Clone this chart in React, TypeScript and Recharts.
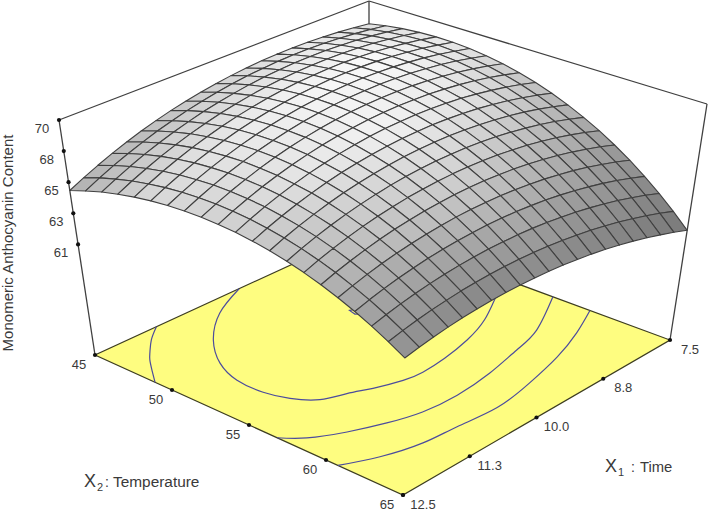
import React from "react";
import { ScatterChart, Scatter, XAxis, YAxis } from "recharts";

const X1_TICKS = [7.5, 8.8, 10.0, 11.3, 12.5];
const X1_FRACS = [0, 0.25, 0.5, 0.75, 1];
const X2_TICKS = [45, 50, 55, 60, 65];
const Z_TICKS = [61, 63.25, 65.5, 67.75, 70];
const Z_LABELS = ["61", "63", "65", "68", "70"];

// Contours on the floor, as [X1, X2]
const C1 = [[11.38,45],[11.69,45.78],[11.94,46.58],[12.10,47.14],[12.3,48],[12.5,48.9]];
const C2 = [[9.87,45],[10.54,46.14],[11.15,47.9],[11.55,49.76],[11.74,51.54],[11.75,53.28],[11.64,54.64],[11.41,55.78],[11.07,56.34],[10.75,56.92],[10.35,57.48],[10.03,57.64],[9.58,57.48],[9.04,57.04],[8.49,56.24],[7.93,55],[7.5,54.2]];
const C3 = [[12.5,56.82],[12.25,57.88],[11.8,58.92],[11.3,59.76],[10.8,60.34],[10.2,60.5],[9.52,60.22],[8.85,59.64],[8.3,59],[7.5,57.22]];
const C4 = [[12.5,60.78],[11.99,61.73],[11.38,62.4],[10.8,62.6],[10.12,62.84],[9.4,62.42],[8.68,61.7],[8.05,60.76],[7.5,59.68]];
const C5 = [[9.3,50.7],[9.39,50.54],[9.42,51],[9.35,51.3]];

// Response surface: one row per X2 step (45..65), one column per X1 step (7.5..12.5)
const Z_00 = [68.30,68.45,68.57,68.66,68.71,68.73,68.71,68.66,68.57,68.45,68.30,68.11,67.89,67.64,67.35,67.03,66.67,66.28,65.85,65.39,64.90];
const Z_01 = [68.54,68.72,68.86,68.97,69.05,69.08,69.09,69.05,68.98,68.88,68.74,68.56,68.35,68.11,67.82,67.51,67.15,66.76,66.34,65.88,65.38];
const Z_02 = [68.71,68.92,69.09,69.22,69.31,69.37,69.39,69.38,69.32,69.23,69.11,68.94,68.74,68.51,68.23,67.92,67.57,67.19,66.76,66.30,65.81];
const Z_03 = [68.82,69.05,69.24,69.40,69.51,69.59,69.63,69.63,69.59,69.52,69.41,69.25,69.06,68.84,68.57,68.27,67.92,67.54,67.12,66.67,66.17];
const Z_04 = [68.87,69.12,69.33,69.51,69.64,69.74,69.80,69.81,69.79,69.73,69.63,69.49,69.31,69.10,68.84,68.54,68.21,67.83,67.42,66.96,66.47];
const Z_05 = [68.85,69.12,69.36,69.55,69.71,69.82,69.89,69.93,69.92,69.87,69.79,69.66,69.49,69.29,69.04,68.75,68.42,68.06,67.65,67.20,66.71];
const Z_06 = [68.77,69.06,69.32,69.53,69.70,69.83,69.92,69.97,69.98,69.95,69.87,69.76,69.60,69.41,69.17,68.89,68.57,68.21,67.81,67.37,66.89];
const Z_07 = [68.62,68.93,69.21,69.44,69.62,69.77,69.88,69.94,69.96,69.95,69.89,69.78,69.64,69.46,69.23,68.97,68.66,68.31,67.92,67.48,67.01];
const Z_08 = [68.41,68.74,69.03,69.28,69.48,69.64,69.76,69.84,69.88,69.87,69.83,69.74,69.61,69.44,69.23,68.97,68.67,68.33,67.95,67.53,67.07];
const Z_09 = [68.14,68.48,68.79,69.05,69.27,69.44,69.58,69.67,69.72,69.73,69.70,69.62,69.51,69.35,69.15,68.91,68.62,68.30,67.93,67.52,67.06];
const Z_10 = [67.80,68.16,68.48,68.75,68.98,69.18,69.32,69.43,69.50,69.52,69.50,69.44,69.34,69.19,69.00,68.78,68.50,68.19,67.84,67.44,67.00];
const Z_11 = [67.40,67.77,68.10,68.39,68.63,68.84,69.00,69.12,69.20,69.23,69.23,69.18,69.09,68.96,68.79,68.58,68.32,68.02,67.68,67.30,66.87];
const Z_12 = [66.93,67.31,67.66,67.96,68.21,68.43,68.60,68.74,68.83,68.88,68.89,68.86,68.78,68.66,68.51,68.31,68.07,67.78,67.46,67.10,66.69];
const Z_13 = [66.40,66.79,67.15,67.46,67.72,67.95,68.14,68.28,68.39,68.45,68.48,68.46,68.40,68.30,68.15,67.97,67.75,67.48,67.18,66.83,66.44];
const Z_14 = [65.81,66.21,66.57,66.89,67.17,67.41,67.60,67.76,67.88,67.96,67.99,67.99,67.94,67.86,67.73,67.57,67.36,67.11,66.83,66.50,66.13];
const Z_15 = [65.15,65.56,65.92,66.25,66.54,66.79,67.00,67.17,67.30,67.39,67.44,67.45,67.42,67.35,67.24,67.10,66.91,66.68,66.41,66.11,65.76];
const Z_16 = [64.43,64.84,65.21,65.55,65.85,66.10,66.32,66.50,66.64,66.75,66.81,66.84,66.83,66.77,66.68,66.55,66.39,66.18,65.94,65.65,65.33];
const Z_17 = [63.64,64.06,64.44,64.78,65.08,65.35,65.58,65.77,65.92,66.04,66.12,66.16,66.16,66.13,66.06,65.95,65.80,65.62,65.40,65.14,64.84];
const Z_18 = [62.79,63.21,63.59,63.94,64.25,64.52,64.76,64.96,65.13,65.26,65.35,65.40,65.43,65.41,65.36,65.27,65.15,64.99,64.79,64.56,64.29];
const Z_19 = [61.88,62.30,62.68,63.03,63.35,63.63,63.87,64.08,64.26,64.40,64.51,64.58,64.62,64.62,64.59,64.53,64.42,64.29,64.12,63.91,63.67];
const Z_20 = [60.90,61.32,61.70,62.06,62.38,62.66,62.92,63.14,63.32,63.48,63.60,63.69,63.74,63.77,63.76,63.71,63.64,63.53,63.38,63.21,63.00];
const Z_GRID = [Z_00,Z_01,Z_02,Z_03,Z_04,Z_05,Z_06,Z_07,Z_08,Z_09,Z_10,Z_11,Z_12,Z_13,Z_14,Z_15,Z_16,Z_17,Z_18,Z_19,Z_20];

const GRAY = [
  [224,232,208,188,176],
  [232,250,245,232,216],
  [194,230,242,230,206],
  [154,180,202,194,178],
  [120,130,136,132,146],
];

const Z0 = 53, Z1 = 70;
const fB = [369, 229], fR = [670, 340], fL = [95, 355], fF = [403, 495];
const tB = [369, 1], tR = [707, 104], tL = [59, 120], tF = [406, 262];
const bil = (q: number[][], a: number, b: number, k: number) =>
  q[0][k]*(1-a)*(1-b) + q[1][k]*a*(1-b) + q[2][k]*(1-a)*b + q[3][k]*a*b;
const project = (x1: number, x2: number, z: number) => {
  const a = (x2-45)/20, b = (x1-7.5)/5, h = (z-Z0)/(Z1-Z0);
  const F = [fB, fR, fL, fF], T = [tB, tR, tL, tF];
  return {
    x: bil(F,a,b,0)*(1-h) + bil(T,a,b,0)*h,
    y: bil(F,a,b,1)*(1-h) + bil(T,a,b,1)*h,
  };
};
const N = Z_GRID.length - 1;

const grayAt = (a: number, b: number) => {
  const u = Math.min(3.999, a*4), v = Math.min(3.999, b*4);
  const i = Math.floor(u), j = Math.floor(v), s = u-i, t = v-j;
  return Math.round(GRAY[i][j]*(1-s)*(1-t)+GRAY[i+1][j]*s*(1-t)+GRAY[i][j+1]*(1-s)*t+GRAY[i+1][j+1]*s*t);
};

const nodeX1 = (j: number) => 7.5 + 5*j/N;
const nodeX2 = (i: number) => 45 + 20*i/N;
const quads: any[] = [];
for (let s = 0; s <= 2*N-2; s++) {
  for (let i = 0; i < N; i++) {
    const j = s - i;
    if (j < 0 || j >= N) continue;
    const c = [[i,j],[i+1,j],[i+1,j+1],[i,j+1]].map(([p,q]) => project(nodeX1(q), nodeX2(p), Z_GRID[p][q]));
    const gi = grayAt((i+.5)/N,(j+.5)/N);
    quads.push({ x: c[0].x, y: c[0].y, corners: c, fill: `rgb(${gi},${gi},${gi})` });
  }
}

const QuadShape = (p: any) => {
  const { cx, cy, payload } = p;
  const pts = payload.corners.map((c: any) => `${cx + c.x - payload.x},${cy + c.y - payload.y}`).join(" ");
  return <polygon points={pts} fill={payload.fill} stroke="#404040" strokeWidth={1.1} strokeLinejoin="round" />;
};
const FloorShape = (p: any) => {
  const { cx, cy, payload } = p;
  const pts = payload.corners.map((c: any) => `${cx + c.x - payload.x},${cy + c.y - payload.y}`).join(" ");
  return <polygon points={pts} fill="#FEFD80" stroke="#3d3d20" strokeWidth={1.2} />;
};
const NoDot = () => <g />;
const TickDot = (p: any) => <circle cx={p.cx} cy={p.cy} r={2.1} fill="#111" />;
const FONT = "'Liberation Sans', Arial, sans-serif";
const LabelShape = (p: any) => (
  <text x={p.cx} y={p.cy} textAnchor="middle" dominantBaseline="central" fontFamily={FONT} fontSize={13} fill="#3a3a3a">{p.payload.text}</text>
);

const floorCorners = [project(7.5,45,Z0), project(7.5,65,Z0), project(12.5,65,Z0), project(12.5,45,Z0)];
const floorData = [{ x: floorCorners[0].x, y: floorCorners[0].y, corners: floorCorners }];
const contour = (c: number[][]) => c.map(([x1,x2]) => project(x1,x2,Z0));

const LT = project(12.5,45,Z1), BT = project(7.5,45,Z1), RT = project(7.5,65,Z1);
const LB = project(12.5,45,Z0), BB = project(7.5,45,Z0), RB = project(7.5,65,Z0);

const zTickPts = Z_TICKS.map((z,i) => { const p = project(12.5,45,z); return { ...p, text: Z_LABELS[i] }; });
const x2TickPts = X2_TICKS.map(v => project(12.5,v,Z0));
const x1TickPts = X1_FRACS.map(f => project(7.5+5*f,65,Z0));
const labelPts = [
  ...zTickPts.map(p => ({ x: p.x-17, y: p.y+8.5, text: p.text })),
  ...x2TickPts.map((p,i) => ({ x: p.x-16, y: p.y+9, text: String(X2_TICKS[i]) })),
  ...x1TickPts.map((p,i) => ({ x: p.x+20, y: p.y+9, text: X1_TICKS[i].toFixed(1) })),
];

const Titles = (p: any) => {
  const { cx, cy, payload } = p;
  if (payload.kind === "z") return <text x={cx} y={cy} transform={`rotate(-90 ${cx} ${cy})`} textAnchor="middle" fontFamily={FONT} fontSize={15} fill="#3a3a3a">{payload.text}</text>;
  return (
    <g fontFamily={FONT} fill="#3a3a3a">
      <text x={cx} y={cy} fontSize={18}>X</text>
      <text x={cx+13} y={cy+4} fontSize={11}>{payload.sub}</text>
      <text x={cx+payload.gap} y={cy} fontSize={14}>:</text>
      <text x={cx+payload.gap+payload.gap2} y={cy} fontSize={payload.size}>{payload.text}</text>
    </g>
  );
};
const titleData = [
  { x: 13, y: 243, kind: "z", text: "Monomeric Anthocyanin Content" },
  { x: 84, y: 487, kind: "x", sub: "2", text: "Temperature", gap: 21, gap2: 8, size: 15.4 },
  { x: 605, y: 472, kind: "x", sub: "1", text: "Time", gap: 26, gap2: 9, size: 14.8 },
];

export default function App() {
  const line = (key: string, data: any[], color: string, w: number, joint: any = "linear") => (
    <Scatter key={key} data={data} shape={NoDot} line={{ stroke: color, strokeWidth: w }} lineJointType={joint} isAnimationActive={false} />
  );
  return (
    <div style={{ position: "absolute", left: 0, top: 0, background: "#fff" }}>
      <ScatterChart width={709} height={512} margin={{ top: 0, right: 0, bottom: 0, left: 0 }}>
        <XAxis type="number" dataKey="x" domain={[0, 709]} hide />
        <YAxis type="number" dataKey="y" domain={[0, 512]} reversed hide />
        {line("lt", [LB, LT], "#404040", 1.3)}
        {line("top1", [LT, BT], "#404040", 1.3)}
        {line("top2", [BT, RT], "#404040", 1.3)}
        {line("rt", [RT, RB], "#404040", 1.3)}
        {line("bk", [BT, BB], "#404040", 1.3)}
        <Scatter data={floorData} shape={FloorShape} isAnimationActive={false} />
        {line("c1", contour(C1), "#4c4c9c", 1.2, "natural")}
        {line("c2", contour(C2), "#4c4c9c", 1.2, "natural")}
        {line("c3", contour(C3), "#4c4c9c", 1.2, "natural")}
        {line("c4", contour(C4), "#4c4c9c", 1.2, "natural")}
        {line("c5", contour(C5), "#4c4c9c", 1.2)}
        <Scatter data={quads} shape={QuadShape} isAnimationActive={false} />
        <Scatter data={zTickPts} shape={TickDot} isAnimationActive={false} />
        <Scatter data={x2TickPts} shape={TickDot} isAnimationActive={false} />
        <Scatter data={x1TickPts} shape={TickDot} isAnimationActive={false} />
        <Scatter data={labelPts} shape={LabelShape} isAnimationActive={false} />
        <Scatter data={titleData} shape={Titles} isAnimationActive={false} />
      </ScatterChart>
    </div>
  );
}
